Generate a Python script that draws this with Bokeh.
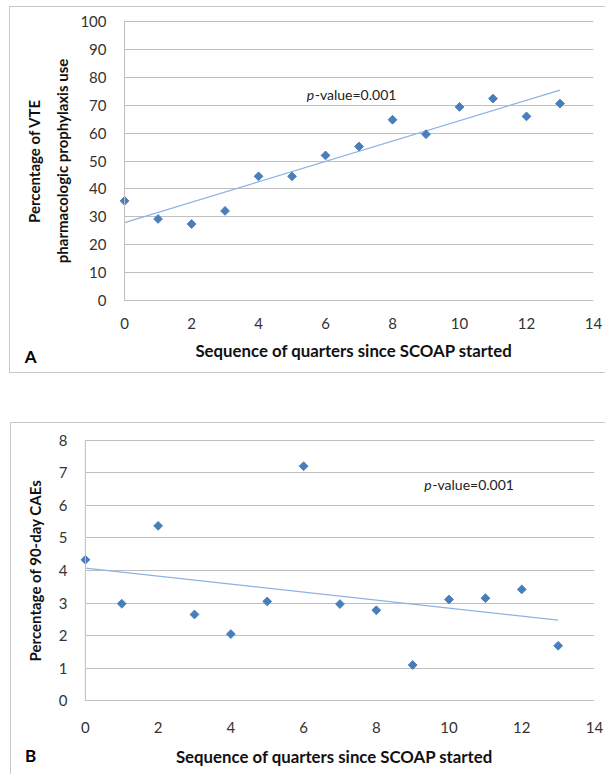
import numpy as np
from bokeh.plotting import figure
from bokeh.layouts import column
from bokeh.models import Range1d, Label, Span, FixedTicker
from bokeh.embed import file_html
from bokeh.resources import INLINE

# ---------------- data ----------------
quarters = list(range(14))
vte_pct = [35.7, 29.2, 27.4, 32.1, 44.5, 44.5, 52.0, 55.2, 64.8, 59.6, 69.4, 72.4, 66.0, 70.6]
cae_pct = [4.33, 2.98, 5.37, 2.65, 2.05, 3.05, 7.20, 2.97, 2.78, 1.10, 3.11, 3.15, 3.42, 1.69]
x_ticks = [0, 2, 4, 6, 8, 10, 12, 14]
vte_ticks = [0, 10, 20, 30, 40, 50, 60, 70, 80, 90, 100]
cae_ticks = [0, 1, 2, 3, 4, 5, 6, 7, 8]
x_title = "Sequence of quarters since SCOAP started"
vte_title = "Percentage of VTE\npharmacologic prophylaxis use"
cae_title = "Percentage of 90-day CAEs"
p_italic = "p"
p_rest = "-value=0.001"

FONT = "Lato"
MARK = "#4A7EBB"
TREND = "#8DB3E2"
GRID = "#BFBFBF"
BORDER = "#C8C8C8"


def panel(yvals, yticks, ytitle, letter, xr, yr, mb, width, height, tick_std,
          xlab_std, ylab_std, letter_xy, pval_xy, styles):
    p = figure(width=width, height=height, x_range=Range1d(*xr), y_range=Range1d(*yr),
               output_backend="svg", toolbar_location=None,
               min_border_left=mb[0], min_border_right=mb[1],
               min_border_top=mb[2], min_border_bottom=mb[3])
    p.frame_align = False
    p.outline_line_color = None
    p.background_fill_color = "white"
    p.border_fill_color = "white"
    p.styles = styles

    p.xgrid.visible = False
    p.ygrid.grid_line_color = GRID
    p.ygrid.grid_line_width = 1
    p.ygrid.ticker = FixedTicker(ticks=yticks)

    for ax in (p.xaxis[0], p.yaxis[0]):
        ax.axis_line_color = None
        ax.major_tick_line_color = None
        ax.minor_tick_line_color = None
        ax.major_tick_out = 0
        ax.major_tick_in = 0
        ax.major_label_text_font = FONT
        ax.major_label_text_font_size = "15px"
        ax.major_label_text_color = "#333333"
        ax.axis_label_text_font = FONT
        ax.axis_label_text_font_style = "bold"
        ax.axis_label_text_color = "#111111"
    p.xaxis.axis_label_text_font_size = "16.8px"
    p.yaxis.axis_label_text_font_size = "15px"
    p.xaxis.ticker = FixedTicker(ticks=x_ticks)
    p.yaxis.ticker = FixedTicker(ticks=yticks)
    p.xaxis.major_label_standoff = tick_std[0]
    p.yaxis.major_label_standoff = tick_std[1]
    p.xaxis.axis_label = x_title
    p.yaxis.axis_label = ytitle
    p.xaxis.axis_label_standoff = xlab_std
    p.yaxis.axis_label_standoff = ylab_std
    p.yaxis.axis_label_text_line_height = 1.55

    # mask the gridline stubs left of x = 0
    p.quad(left=[xr[0]], right=[0], bottom=[yr[0]], top=[yr[1]],
           fill_color="white", line_color=None)
    p.add_layout(Span(location=0, dimension="height", line_color=GRID, line_width=1))

    # linear trend line (least squares)
    slope, icpt = np.polyfit(quarters, yvals, 1)
    xs = [quarters[0], quarters[-1]]
    p.line(xs, [icpt + slope * v for v in xs], line_color=TREND, line_width=1.2)

    p.scatter(quarters, yvals, marker="square", size=6.2, angle=np.pi / 4,
              fill_color=MARK, line_color=MARK)

    p.add_layout(Label(x=pval_xy[0], y=pval_xy[1], text=p_italic, text_font=FONT,
                       text_font_size="14px", text_font_style="italic",
                       text_baseline="middle", text_color="#222222"))
    p.add_layout(Label(x=pval_xy[0], y=pval_xy[1], x_offset=8, text=p_rest, text_font=FONT,
                       text_font_size="14px", text_baseline="middle", text_color="#222222"))
    p.add_layout(Label(x=letter_xy[0], y=letter_xy[1], text=letter, text_font=FONT,
                       text_font_size="17px", text_font_style="bold",
                       text_align="center", text_baseline="middle", text_color="black"),
                 "left")
    return p


pA = panel(vte_pct, vte_ticks, vte_title, "A", (-0.3, 14), (-0.4, 100.4),
           (104, 13, 13, 73), 596, 367, (16, 8), 8, 6,
           (-2.8, -20.0), (5.44, 74.0),
           {"margin-left": "9px", "margin-top": "6px",
            "border-left": f"1px solid {BORDER}", "border-top": f"1px solid {BORDER}",
            "border-bottom": f"1px solid {BORDER}"})

pB = panel(cae_pct, cae_ticks, cae_title, "B", (-0.3, 14), (-0.02, 8.02),
           (63, 12, 16, 74), 595, 352, (20, 7), 10, 12,
           (-1.51, -1.68), (9.32, 6.65),
           {"margin-left": "10px",
            "border-left": f"1px solid {BORDER}", "border-top": f"1px solid {BORDER}"})

layout = column(pA, pB, spacing=49)

open("out.html", "w").write(file_html(layout, INLINE))
